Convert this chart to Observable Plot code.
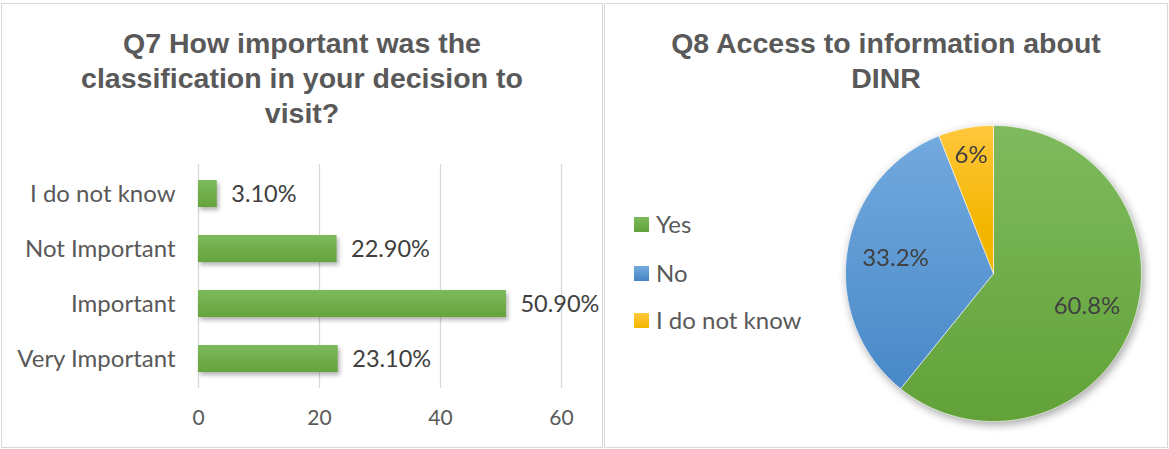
<!DOCTYPE html>
<html><head><meta charset="utf-8">
<script src="https://cdn.jsdelivr.net/npm/d3@7"></script>
<script src="https://cdn.jsdelivr.net/npm/@observablehq/plot@0.6"></script>
<style>
body{margin:0;background:#fff;width:1169px;height:449px;position:relative;overflow:hidden;font-family:Lato,sans-serif;}
.panel{position:absolute;border:1px solid #d9d9d9;box-sizing:border-box;background:#fff;}
.title{position:absolute;font-family:"Liberation Sans",Arial,sans-serif;font-weight:bold;font-size:28.5px;color:#595959;text-align:center;line-height:35px;white-space:nowrap;}
.abs{position:absolute;}
.legend-item{position:absolute;font-size:24px;color:#595959;line-height:24px;white-space:nowrap;}
.legend-item span.sw{position:absolute;left:0;top:5px;width:15px;height:15px;}
.legend-item span.tx{position:absolute;left:22px;top:0;}
#bars svg{overflow:visible;}
g[aria-label="bar"] rect{filter:drop-shadow(2px 3px 2px rgba(0,0,0,0.30));}
#pie svg{filter:drop-shadow(2px 3px 4px rgba(0,0,0,0.35));overflow:visible;}
</style>
</head><body>
<svg width="0" height="0" style="position:absolute">
  <defs>
    <linearGradient id="gGreen" x1="0" y1="0" x2="0" y2="1">
      <stop offset="0" stop-color="#7dba5c"/><stop offset="1" stop-color="#65a33b"/>
    </linearGradient>
    <linearGradient id="pGreen" gradientUnits="userSpaceOnUse" x1="0" y1="10" x2="0" y2="306">
      <stop offset="0" stop-color="#7fbb5e"/><stop offset="1" stop-color="#62a138"/>
    </linearGradient>
    <linearGradient id="pBlue" gradientUnits="userSpaceOnUse" x1="0" y1="10" x2="0" y2="306">
      <stop offset="0" stop-color="#74abdf"/><stop offset="1" stop-color="#4384c5"/>
    </linearGradient>
    <linearGradient id="pYellow" gradientUnits="userSpaceOnUse" x1="0" y1="10" x2="0" y2="110">
      <stop offset="0" stop-color="#ffc73c"/><stop offset="1" stop-color="#f3b600"/>
    </linearGradient>
  </defs>
</svg>
<div class="panel" style="left:1px;top:3px;width:602px;height:445px;"></div>
<div class="panel" style="left:604px;top:3px;width:564px;height:445px;"></div>
<div class="title" style="left:1px;top:26px;width:602px;">Q7 How important was the<br>classification in your decision to<br>visit?</div>
<div class="title" style="left:604px;top:26px;width:564px;">Q8 Access to information about<br>DINR</div>
<div id="bars" class="abs" style="left:0;top:150px;"></div>
<div id="legend" class="abs" style="left:0;top:0;"></div>
<div id="pie" class="abs" style="left:835px;top:115px;"></div>
<script>
// ---- Data ----
const q7Categories = ["I do not know", "Not Important", "Important", "Very Important"];
const q7Values = [3.1, 22.9, 50.9, 23.1];
const q7Labels = ["3.10%", "22.90%", "50.90%", "23.10%"];
const q7Ticks = [0, 20, 40, 60];

const q8Categories = ["Yes", "No", "I do not know"];
const q8Values = [60.8, 33.2, 6];
const q8Labels = ["60.8%", "33.2%", "6%"];

// ---- Bar chart ----
const barRows = q7Categories.map((c, i) => ({category: c, value: q7Values[i], label: q7Labels[i]}));
const barPlot = Plot.plot({
  width: 602, height: 290,
  marginLeft: 198, marginRight: 41, marginTop: 14, marginBottom: 52,
  x: {domain: [0, 60]},
  y: {domain: q7Categories, paddingInner: 0.515, paddingOuter: 0.268},
  style: {fontFamily: "Lato, sans-serif", color: "#404040", background: "transparent", overflow: "visible"},
  marks: [
    Plot.gridX(q7Ticks, {stroke: "#d9d9d9", strokeOpacity: 1, strokeWidth: 1.3}),
    Plot.barX(barRows, {x: "value", y: "category", fill: "url(#gGreen)"}),
    Plot.text(barRows, {x: "value", y: "category", text: "label", textAnchor: "start", dx: 14, fontSize: 23.5, fill: "#404040"}),
    Plot.axisX({ticks: q7Ticks, tickSize: 0, tickPadding: 22, fontSize: 21, fill: "#595959", label: null}),
    Plot.axisY({tickSize: 0, tickPadding: 23, fontSize: 24, fill: "#595959", label: null})
  ]
});
document.getElementById("bars").appendChild(barPlot);

// ---- Pie chart ----
const total = d3.sum(q8Values);
let acc = 0;
const slices = q8Categories.map((c, i) => {
  const a0 = acc / total * 2 * Math.PI;
  acc += q8Values[i];
  const a1 = acc / total * 2 * Math.PI;
  return {key: c, a0, a1, share: q8Values[i] / total, label: q8Labels[i]};
});
const piePts = [];
for (const s of slices) {
  piePts.push({key: s.key, x: 0, y: 0});
  const n = Math.max(2, Math.ceil((s.a1 - s.a0) / (Math.PI / 180)));
  for (let k = 0; k <= n; k++) {
    const a = s.a0 + (s.a1 - s.a0) * k / n;
    piePts.push({key: s.key, x: Math.sin(a), y: Math.cos(a)});
  }
  piePts.push({key: s.key, x: 0, y: 0});
}
const pieLabels = slices.map(s => {
  const m = (s.a0 + s.a1) / 2;
  const r = s.share < 0.1 ? 0.81 : 0.67; // small slice: label pushed outward (best fit)
  return {key: s.key, label: s.label, x: r * Math.sin(m), y: r * Math.cos(m)};
});
const piePlot = Plot.plot({
  width: 316, height: 316, margin: 10,
  x: {domain: [-1, 1], axis: null},
  y: {domain: [-1, 1], axis: null},
  color: {domain: q8Categories, range: ["url(#pGreen)", "url(#pBlue)", "url(#pYellow)"]},
  style: {fontFamily: "Lato, sans-serif", background: "transparent"},
  marks: [
    Plot.line(piePts, {x: "x", y: "y", z: "key", fill: "key", stroke: "#ffffff", strokeWidth: 0.6, curve: "linear"}),
    Plot.text(pieLabels, {x: "x", y: "y", text: "label", fontSize: 24, fill: "#404040"})
  ]
});
document.getElementById("pie").appendChild(piePlot);

// ---- Legend ----
const legendCss = ["linear-gradient(#7dba5c,#62a138)", "linear-gradient(#74abdf,#4384c5)", "linear-gradient(#ffc73c,#f3b600)"];
const legendY = [225, 273.5, 320.5];
const leg = document.getElementById("legend");
q8Categories.forEach((c, i) => {
  const d = document.createElement("div");
  d.className = "legend-item";
  d.style.left = "634px";
  d.style.top = (legendY[i] - 13) + "px";
  d.innerHTML = `<span class="sw" style="background:${legendCss[i]}"></span><span class="tx">${c}</span>`;
  leg.appendChild(d);
});
</script>
</body></html>
